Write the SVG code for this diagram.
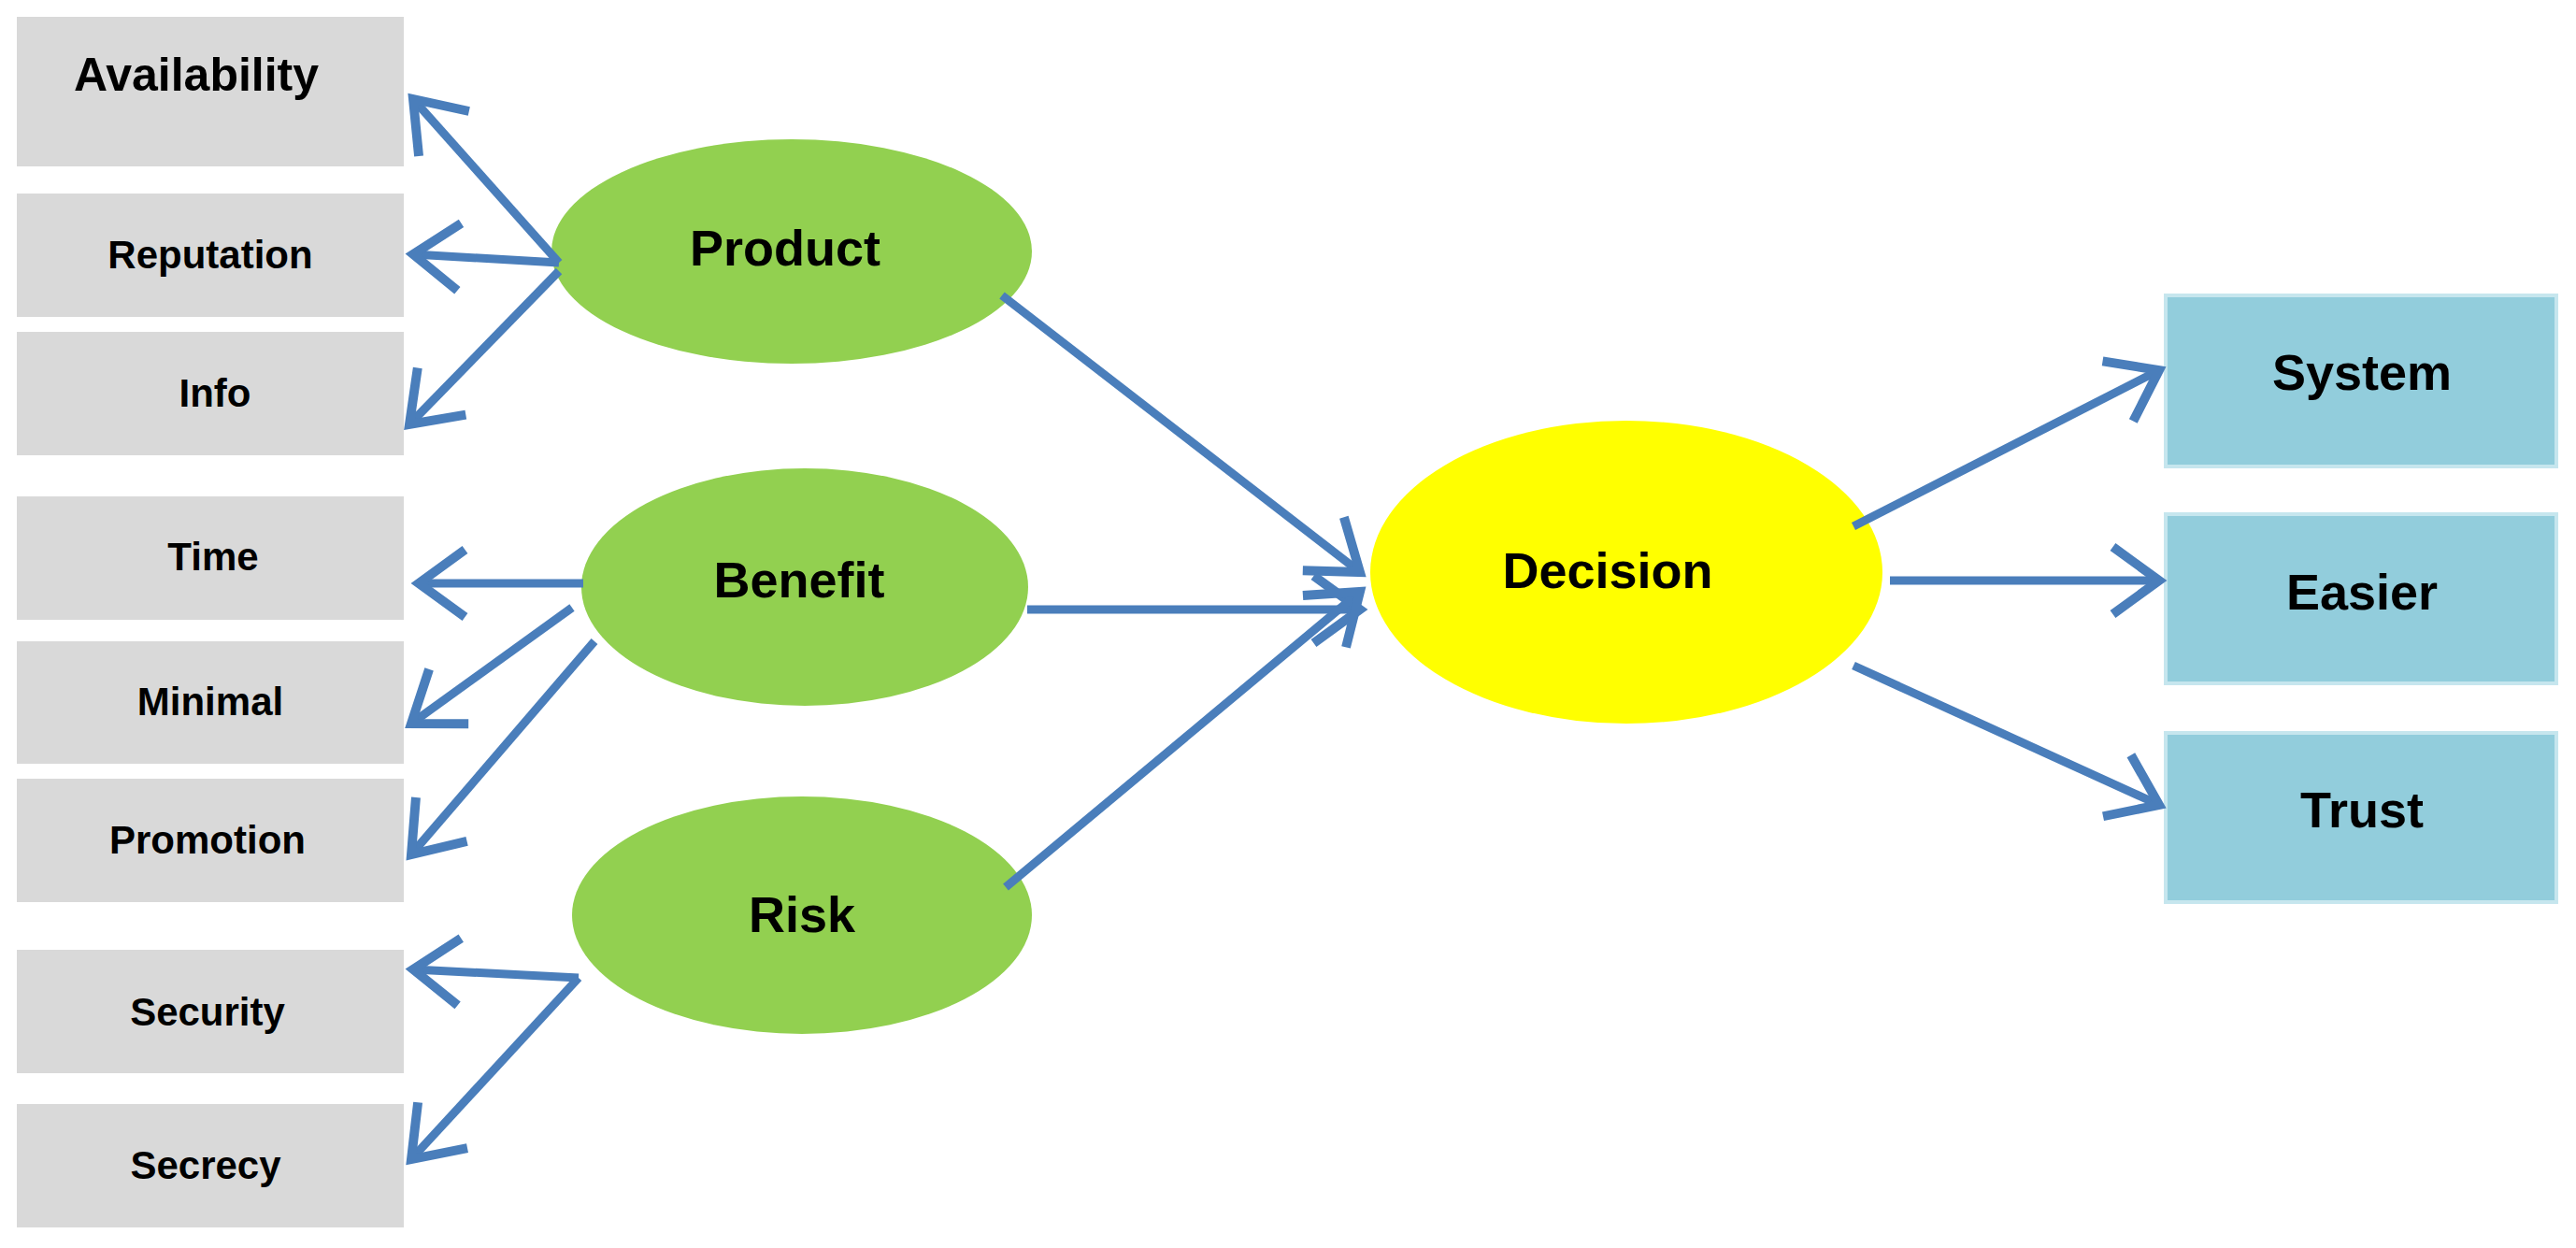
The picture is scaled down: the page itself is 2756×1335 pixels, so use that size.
<svg xmlns="http://www.w3.org/2000/svg" width="2756" height="1335" viewBox="0 0 2756 1335">
<defs>
<style>
.g{fill:#d9d9d9}.gr{fill:#92d050}.bl{fill:#92cddc;stroke:#c6e6ee;stroke-width:4}
text{font-family:"Liberation Sans",Arial,sans-serif;font-weight:bold;fill:#000;text-anchor:middle;dominant-baseline:central}
.s{font-size:42px}.m{font-size:54px}
line{stroke:#4a7ebb;stroke-width:9;marker-end:url(#a)}
</style>
<marker id="a" markerWidth="8" markerHeight="10" refX="6.5" refY="5" orient="auto" markerUnits="strokeWidth"><path d="M1,1 L6.5,5 L1,9" fill="none" stroke="#4a7ebb" stroke-width="1.1"/></marker>
</defs>
<rect width="2756" height="1335" fill="#fff"/>
<g id="availability"><rect class="g" x="18" y="18" width="414" height="160"/><text x="210" y="80" style="font-size:50px">Availability</text></g>
<g id="reputation"><rect class="g" x="18" y="207" width="414" height="132"/><text class="s" x="225" y="272">Reputation</text></g>
<g id="info"><rect class="g" x="18" y="355" width="414" height="132"/><text class="s" x="230" y="420">Info</text></g>
<g id="time"><rect class="g" x="18" y="531" width="414" height="132"/><text class="s" x="228" y="595">Time</text></g>
<g id="minimal"><rect class="g" x="18" y="686" width="414" height="131"/><text class="s" x="225" y="750">Minimal</text></g>
<g id="promotion"><rect class="g" x="18" y="833" width="414" height="132"/><text class="s" x="222" y="898">Promotion</text></g>
<g id="security"><rect class="g" x="18" y="1016" width="414" height="132"/><text class="s" x="222" y="1082">Security</text></g>
<g id="secrecy"><rect class="g" x="18" y="1181" width="414" height="132"/><text class="s" x="220" y="1246">Secrecy</text></g>
<g id="product"><ellipse class="gr" cx="847" cy="269" rx="257" ry="120"/><text class="m" x="840" y="265">Product</text></g>
<g id="benefit"><ellipse class="gr" cx="861" cy="628" rx="239" ry="127"/><text class="m" x="855" y="620">Benefit</text></g>
<g id="risk"><ellipse class="gr" cx="858" cy="979" rx="246" ry="127"/><text class="m" x="858" y="978">Risk</text></g>
<g id="decision"><ellipse cx="1740" cy="612" rx="274" ry="162" fill="#ffff00"/><text class="m" x="1720" y="610">Decision</text></g>
<g id="system"><rect class="bl" x="2317" y="316" width="418" height="183"/><text class="m" x="2527" y="398">System</text></g>
<g id="easier"><rect class="bl" x="2317" y="550" width="418" height="181"/><text class="m" x="2527" y="633">Easier</text></g>
<g id="trust"><rect class="bl" x="2317" y="784" width="418" height="181"/><text class="m" x="2527" y="866">Trust</text></g>
<g id="connectors">
<line x1="1072" y1="316" x2="1455" y2="612"/>
<line x1="1099" y1="652" x2="1455" y2="652"/>
<line x1="1076" y1="949" x2="1455" y2="633"/>
<line x1="1983" y1="563" x2="2310" y2="396"/>
<line x1="2022" y1="621" x2="2310" y2="621"/>
<line x1="1983" y1="712" x2="2310" y2="861"/>
<line x1="598" y1="281" x2="442" y2="106"/>
<line x1="598" y1="281" x2="442" y2="272"/>
<line x1="598" y1="290" x2="438" y2="454"/>
<line x1="624" y1="624" x2="448" y2="624"/>
<line x1="612" y1="650" x2="440" y2="774"/>
<line x1="636" y1="686" x2="440" y2="914"/>
<line x1="619" y1="1046" x2="442" y2="1037"/>
<line x1="619" y1="1046" x2="440" y2="1240"/>
</g>
</svg>
